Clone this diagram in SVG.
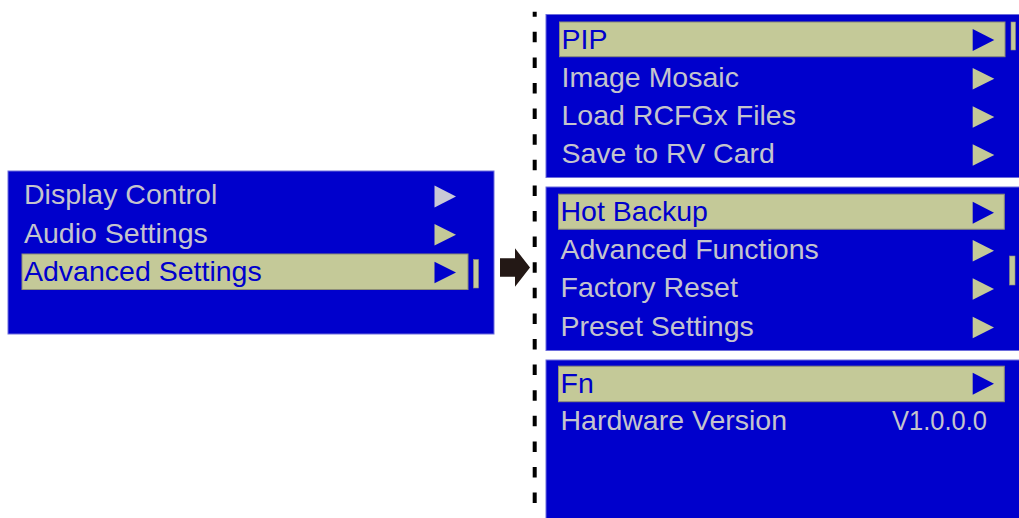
<svg xmlns="http://www.w3.org/2000/svg" width="1019" height="518" viewBox="0 0 1019 518">
<defs>
<style>
.panel{fill:#0000cc;stroke:#6c6cdc;stroke-width:1}
.hl{fill:#c4c998;stroke:#8e8e78;stroke-width:1}
.sb{fill:#c4c998;stroke:#8e8e78;stroke-width:0.6}
.t{font-family:"Liberation Sans",Arial,sans-serif;font-size:28.5px;fill:#c4c4cc}
.th{font-family:"Liberation Sans",Arial,sans-serif;font-size:28.5px;fill:#0000cc}
.tri{fill:#c4c998}
.trih{fill:#0000cc}
.triw{fill:#c8c8d6}
</style>
</defs>
<rect width="1019" height="518" fill="#ffffff"/>

<g id="menu-main">
<rect class="panel" x="8" y="171" width="486" height="163"/>
<rect class="hl" x="22" y="254" width="446" height="35.5"/>
<rect class="sb" x="473.5" y="259.5" width="5" height="28.5"/>
<text class="t" x="24" y="204">Display Control</text>
<text class="t" x="24" y="242.5">Audio Settings</text>
<text class="th" x="24" y="280.5">Advanced Settings</text>
<polygon class="triw" points="434.5,185.5 456,196.5 434.5,207.5"/>
<polygon class="tri" points="434.5,224 456,234.7 434.5,245.4"/>
<polygon class="trih" points="434.5,261.8 456,272.5 434.5,283.2"/>
</g>

<g id="menu-page1">
<rect class="panel" x="546" y="14.5" width="480" height="163"/>
<rect class="hl" x="559.5" y="22" width="445.5" height="34.7"/>
<rect class="sb" x="1011" y="22" width="4.5" height="28"/>
<text class="th" x="561.5" y="48.5">PIP</text>
<text class="t" x="561.5" y="87">Image Mosaic</text>
<text class="t" x="561.5" y="125">Load RCFGx Files</text>
<text class="t" x="561.5" y="163">Save to RV Card</text>
<polygon class="trih" points="972.7,29 994.3,40 972.7,51"/>
<polygon class="tri" points="972.7,68 994.3,78.8 972.7,89.6"/>
<polygon class="tri" points="972.7,106.2 994.3,117 972.7,127.8"/>
<polygon class="tri" points="972.7,144.2 994.3,155 972.7,165.8"/>
</g>

<g id="menu-page2">
<rect class="panel" x="546" y="187" width="480" height="163.5"/>
<rect class="hl" x="558.5" y="194.2" width="445.8" height="35"/>
<rect class="sb" x="1009.5" y="256" width="5.5" height="29"/>
<text class="th" x="560.5" y="221">Hot Backup</text>
<text class="t" x="560.5" y="259">Advanced Functions</text>
<text class="t" x="560.5" y="297">Factory Reset</text>
<text class="t" x="560.5" y="335.5">Preset Settings</text>
<polygon class="trih" points="972.7,201.8 994,212.8 972.7,223.8"/>
<polygon class="tri" points="972.7,240 994,250.8 972.7,261.6"/>
<polygon class="tri" points="972.7,278.2 994,289 972.7,299.8"/>
<polygon class="tri" points="972.7,316.7 994,327.5 972.7,338.3"/>
</g>

<g id="menu-page3">
<rect class="panel" x="546" y="360" width="480" height="170"/>
<rect class="hl" x="558.5" y="366.2" width="445.8" height="35.5"/>
<text class="th" x="560.5" y="392.5">Fn</text>
<text class="t" x="560.5" y="430">Hardware Version</text>
<text class="t" x="987" y="430" text-anchor="end" textLength="95" lengthAdjust="spacingAndGlyphs">V1.0.0.0</text>
<polygon class="trih" points="972.7,372.8 994,383.8 972.7,394.8"/>
</g>

<g id="connectors">
<line x1="534.7" y1="11.7" x2="534.7" y2="518" stroke="#000000" stroke-width="4" stroke-dasharray="10.5 15.1" stroke-dashoffset="5.5"/>
<polygon points="500,258.3 515,258.3 515,248.3 530,267.5 515,286.7 515,276.7 500,276.7" fill="#231815"/>
</g>
</svg>
